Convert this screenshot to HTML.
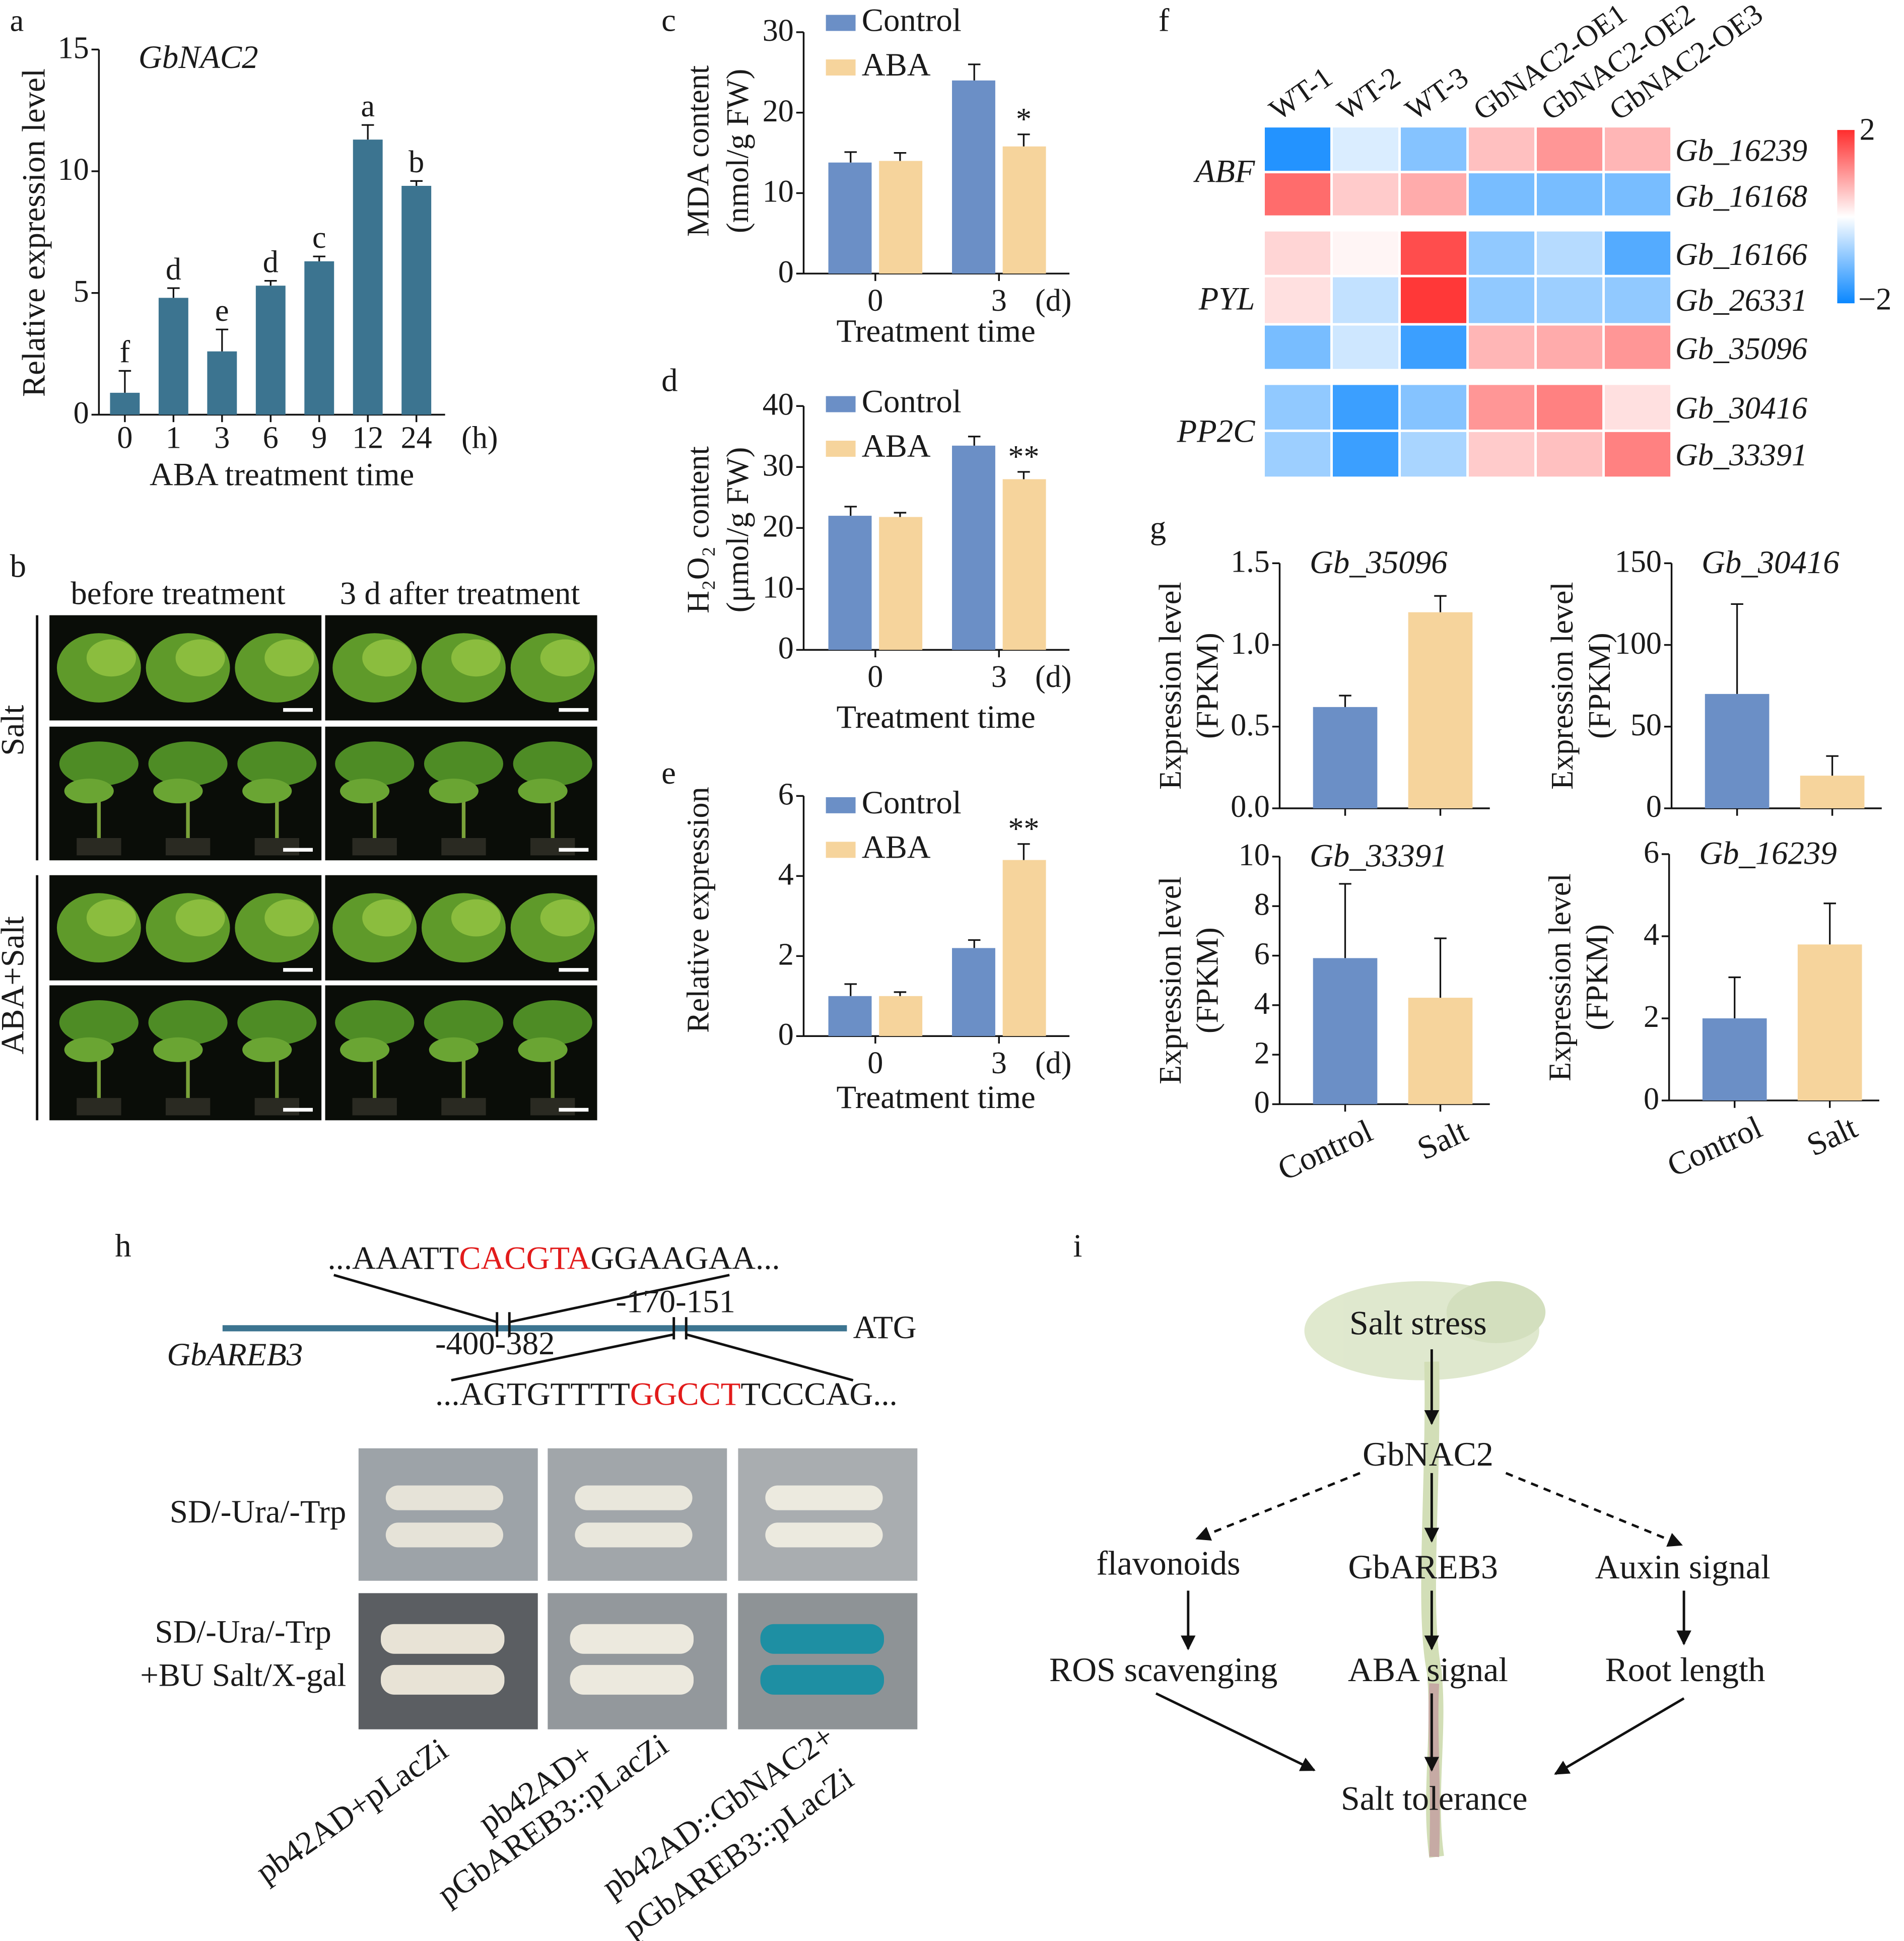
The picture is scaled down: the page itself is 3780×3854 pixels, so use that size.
<!DOCTYPE html>
<html><head><meta charset="utf-8"><style>
html,body{margin:0;padding:0;background:#fff}
svg{display:block}
text{font-family:"Liberation Serif",serif;fill:#1a1a1a}
</style></head><body>
<svg id="fig" width="3780" height="3854" viewBox="0 0 1540 1568" preserveAspectRatio="none" xmlns="http://www.w3.org/2000/svg">
<g id="pa"></g>
<g id="pb"></g>
<g id="pc"></g>
<g id="pd"></g>
<g id="pe"></g>
<g id="pf"></g>
<g id="pg"></g>
<g id="ph"></g>
<g id="pi"></g>
</svg>
<script>
// ---- data ----
const aCats=["0","1","3","6","9","12","24"];
const aVals=[0.9,4.8,2.6,5.3,6.3,11.3,9.4];
const aErr=[0.9,0.4,0.9,0.2,0.2,0.6,0.2];
const aLetters=["f","d","e","d","c","a","b"];
const aTicks=[0,5,10,15];
const groupCats=["0","3"];
const cControl=[13.8,24.0];const cABA=[14.0,15.8];const cCtrlErr=[1.3,2.0];const cABAErr=[1.0,1.5];
const cTicks=[0,10,20,30];
const dControl=[22.0,33.5];const dABA=[21.8,28.0];const dCtrlErr=[1.5,1.5];const dABAErr=[0.7,1.2];
const dTicks=[0,10,20,30,40];
const eControl=[1.0,2.2];const eABA=[1.0,4.4];const eCtrlErr=[0.3,0.2];const eABAErr=[0.1,0.4];
const eTicks=[0,2,4,6];
const fCols=["WT-1","WT-2","WT-3","GbNAC2-OE1","GbNAC2-OE2","GbNAC2-OE3"];
const fRows=["Gb_16239","Gb_16168","Gb_16166","Gb_26331","Gb_35096","Gb_30416","Gb_33391"];
const fVals=[
[-1.8,-0.3,-1.0,0.6,1.0,0.7],
[1.4,0.5,0.8,-1.1,-1.1,-1.1],
[0.4,0.1,1.7,-0.9,-0.6,-1.4],
[0.3,-0.5,1.9,-0.9,-0.8,-0.9],
[-1.1,-0.4,-1.6,0.7,0.8,1.0],
[-0.9,-1.6,-1.0,1.0,1.2,0.3],
[-0.8,-1.6,-0.7,0.5,0.6,1.2]];
const gCats=["Control","Salt"];
const g1Vals=[0.62,1.2];const g1Err=[0.07,0.1];const g1Ticks=[0,0.5,1.0,1.5];
const g2Vals=[70,20];const g2Err=[55,12];const g2Ticks=[0,50,100,150];
const g3Vals=[5.9,4.3];const g3Err=[3.0,2.4];const g3Ticks=[0,2,4,6,8,10];
const g4Vals=[2.0,3.8];const g4Err=[1.0,1.0];const g4Ticks=[0,2,4,6];

const NS="http://www.w3.org/2000/svg";
const FS=1.15;
function el(parent,tag,attrs,txt){const e=document.createElementNS(NS,tag);for(const k in attrs){let v=attrs[k];if(k==='font-size')v=(v*FS).toFixed(1);e.setAttribute(k,v);}if(txt!==undefined)e.textContent=txt;parent.appendChild(e);return e;}
const BLUE="#6b8fc6",ORANGE="#f6d49c",TEAL="#3c7490";

function errbar(g,x,yTop,yErr){
  const e=el(g,'path',{d:`M${x},${yTop}V${yErr}M${x-5},${yErr}H${x+5}`,stroke:'#111','stroke-width':1.3,fill:'none'});
  
}
function yaxis(g,x,y0,y1,max,ticks,fs,fmt){
  const sy=v=>y0-(v/max)*(y0-y1);
  const ax=el(g,'line',{x1:x,y1:y0,x2:x,y2:sy(ticks[ticks.length-1]),stroke:'#111','stroke-width':1.4});
  
  ticks.forEach(t=>{el(g,'line',{x1:x-6,y1:sy(t),x2:x,y2:sy(t),stroke:'#111','stroke-width':1.4});
    const tl=el(g,'text',{x:x-8,y:sy(t)+7,'text-anchor':'end','font-size':fs},fmt?fmt(t):t);
    });
  return sy;
}

// ---- panel a ----
(function(){
  const g=document.getElementById('pa');
  el(g,'text',{x:8,y:25,'font-size':22},'a');
  const sy=yaxis(g,80,335,40,15,aTicks,22);
  el(g,'line',{x1:80,y1:335,x2:360,y2:335,stroke:'#111','stroke-width':1.4});
  const xs=i=>101+i*39.3;
  aVals.forEach((v,i)=>{
    const b=el(g,'rect',{x:xs(i)-12,y:sy(v),width:24,height:335-sy(v),fill:TEAL});
    
    errbar(g,xs(i),sy(v),sy(v+aErr[i]));
    el(g,'text',{x:xs(i),y:sy(v+aErr[i])-7,'text-anchor':'middle','font-size':22},aLetters[i]);
    el(g,'line',{x1:xs(i),y1:335,x2:xs(i),y2:341,stroke:'#111','stroke-width':1.4});
    const t=el(g,'text',{x:xs(i),y:362,'text-anchor':'middle','font-size':22},aCats[i]);
    
  });
  el(g,'text',{x:388,y:362,'text-anchor':'middle','font-size':22},'(h)');
  el(g,'text',{x:228,y:392,'text-anchor':'middle','font-size':23},'ABA treatment time');
  el(g,'text',{x:0,y:0,'text-anchor':'middle','font-size':23,transform:'translate(36,188) rotate(-90)'},'Relative expression level');
  el(g,'text',{x:112,y:55,'font-size':23,'font-style':'italic',fill:'#555'},'GbNAC2');
})();

// ---- grouped bar panels c,d,e ----
function grouped(id,letter,ly,ax,y0,y1,max,ticks,ctrl,aba,ce,ae,ylab1,ylab2,labY,sig,legY,xlab){
  const g=document.getElementById(id);
  el(g,'text',{x:535,y:ly,'font-size':23},letter);
  const sy=yaxis(g,ax,y0,y1,max,ticks,22);
  el(g,'line',{x1:ax,y1:y0,x2:865,y2:y0,stroke:'#111','stroke-width':1.4});
  const centers=[708,808];
  groupCats.forEach((c,i)=>{
    const cx=centers[i];
    const b1=el(g,'rect',{x:cx-38,y:sy(ctrl[i]),width:35,height:y0-sy(ctrl[i]),fill:BLUE});
    
    const b2=el(g,'rect',{x:cx+3,y:sy(aba[i]),width:35,height:y0-sy(aba[i]),fill:ORANGE});
    
    errbar(g,cx-20,sy(ctrl[i]),sy(ctrl[i]+ce[i]));
    errbar(g,cx+20,sy(aba[i]),sy(aba[i]+ae[i]));
    el(g,'line',{x1:cx,y1:y0,x2:cx,y2:y0+6,stroke:'#111','stroke-width':1.4});
    el(g,'text',{x:cx,y:y0+30,'text-anchor':'middle','font-size':22},c);
    if(i===1&&sig) el(g,'text',{x:cx+20,y:sy(aba[i]+ae[i])-4,'text-anchor':'middle','font-size':22},sig);
  });
  el(g,'text',{x:852,y:y0+30,'text-anchor':'middle','font-size':22},'(d)');
  el(g,'text',{x:757,y:xlab,'text-anchor':'middle','font-size':23},'Treatment time');
  el(g,'rect',{x:668,y:legY-10,width:24,height:13,fill:BLUE});
  el(g,'text',{x:697,y:legY+3,'font-size':23},'Control');
  el(g,'rect',{x:668,y:legY+26,width:24,height:13,fill:ORANGE});
  el(g,'text',{x:697,y:legY+39,'font-size':23},'ABA');
  el(g,'text',{x:0,y:0,'text-anchor':'middle','font-size':22,transform:`translate(573,${labY}) rotate(-90)`},ylab1);
  if(ylab2) el(g,'text',{x:0,y:0,'text-anchor':'middle','font-size':22,transform:`translate(605,${labY}) rotate(-90)`},ylab2);
}
grouped('pc','c',25,650,221,26,30,cTicks,cControl,cABA,cCtrlErr,cABAErr,'MDA content','(nmol/g FW)',122,'*',22,276);
grouped('pd','d',316,650,525,328,40,dTicks,dControl,dABA,dCtrlErr,dABAErr,'H₂O₂ content','(μmol/g FW)',428,'**',330,588);
grouped('pe','e',633,650,837,643,6,eTicks,eControl,eABA,eCtrlErr,eABAErr,'Relative expression','',735,'**',654,895);

// ---- panel f heatmap ----
(function(){
  const g=document.getElementById('pf');
  el(g,'text',{x:937,y:25,'font-size':23},'f');
  function col(v){
    const t=Math.max(-1,Math.min(1,v/2));
    let r,gg,b;
    if(t>=0){r=255;gg=Math.round(255-(255-45)*t);b=Math.round(255-(255-45)*t);}
    else{const s=-t;r=Math.round(255-(255-10)*s);gg=Math.round(255-(255-135)*s);b=255;}
    return `rgb(${r},${gg},${b})`;
  }
  const rowY=[103,140,187,224,263,311,349];
  const rowH=[35,34,35,37,35,36,36];
  fVals.forEach((row,ri)=>{
    row.forEach((v,ci)=>{
      const c=el(g,'rect',{x:1023+ci*55,y:rowY[ri],width:53,height:rowH[ri],fill:col(v)});
      
    });
    el(g,'text',{x:1355,y:rowY[ri]+27,'font-size':22,'font-style':'italic'},fRows[ri]);
  });
  fCols.forEach((c,ci)=>{
    el(g,'text',{x:0,y:0,'font-size':21,transform:`translate(${1034+ci*55},98) rotate(-35)`},c);
  });
  el(g,'text',{x:1015,y:147,'text-anchor':'end','font-size':23,'font-style':'italic'},'ABF');
  el(g,'text',{x:1015,y:250,'text-anchor':'end','font-size':23,'font-style':'italic'},'PYL');
  el(g,'text',{x:1015,y:357,'text-anchor':'end','font-size':23,'font-style':'italic'},'PP2C');
  const defs=el(g,'defs',{});
  const lg=el(defs,'linearGradient',{id:'cb',x1:0,y1:0,x2:0,y2:1});
  el(lg,'stop',{offset:'0','stop-color':col(2)});el(lg,'stop',{offset:'0.5','stop-color':'#fff'});el(lg,'stop',{offset:'1','stop-color':col(-2)});
  const cb=el(g,'rect',{x:1486,y:105,width:14,height:140,fill:'url(#cb)'});
  
  el(g,'text',{x:1504,y:113,'font-size':22},'2');
  el(g,'text',{x:1503,y:250,'font-size':22},'−2');
})();

// ---- panel g ----
function gplot(ax,y0,y1,max,ticks,vals,errs,title,showX){
  const g=document.getElementById('pg');
  const sy=yaxis(g,ax,y0,y1,max,ticks,22,t=>(max<2? t.toFixed(1):t));
  el(g,'line',{x1:ax,y1:y0,x2:ax+170,y2:y0,stroke:'#111','stroke-width':1.4});
  const cs=[ax+53,ax+130];
  vals.forEach((v,i)=>{
    const b=el(g,'rect',{x:cs[i]-26,y:sy(v),width:52,height:y0-sy(v),fill:i?ORANGE:BLUE});
    
    errbar(g,cs[i],sy(v),sy(v+errs[i]));
    el(g,'line',{x1:cs[i],y1:y0,x2:cs[i],y2:y0+6,stroke:'#111','stroke-width':1.4});
    if(showX) el(g,'text',{x:0,y:0,'text-anchor':'end','font-size':23,transform:`translate(${cs[i]+24},${y0+28}) rotate(-25)`},gCats[i]);
  });
  el(g,'text',{x:ax+80,y:y1+8,'text-anchor':'middle','font-size':23,'font-style':'italic'},title);
  el(g,'text',{x:0,y:0,'text-anchor':'middle','font-size':22,transform:`translate(${ax-80},${(y0+y1)/2}) rotate(-90)`},'Expression level');
  el(g,'text',{x:0,y:0,'text-anchor':'middle','font-size':22,transform:`translate(${ax-50},${(y0+y1)/2}) rotate(-90)`},'(FPKM)');
}
el(document.getElementById('pg'),'text',{x:930,y:435,'font-size':23},'g');
gplot(1035,653,455,1.5,g1Ticks,g1Vals,g1Err,'Gb_35096',false);
gplot(1352,653,455,150,g2Ticks,g2Vals,g2Err,'Gb_30416',false);
gplot(1035,892,692,10,g3Ticks,g3Vals,g3Err,'Gb_33391',true);
gplot(1350,889,690,6,g4Ticks,g4Vals,g4Err,'Gb_16239',true);

// ---- panel b photos ----
(function(){
  const g=document.getElementById('pb');
  el(g,'text',{x:8,y:466,'font-size':23},'b');
  el(g,'text',{x:144,y:488,'text-anchor':'middle','font-size':23},'before treatment');
  el(g,'text',{x:372,y:488,'text-anchor':'middle','font-size':23},'3 d after treatment');
  el(g,'line',{x1:30,y1:497,x2:30,y2:695,stroke:'#111','stroke-width':2});
  el(g,'line',{x1:30,y1:707,x2:30,y2:905,stroke:'#111','stroke-width':2});
  el(g,'text',{x:0,y:0,'text-anchor':'middle','font-size':23,transform:'translate(19,590) rotate(-90)'},'Salt');
  el(g,'text',{x:0,y:0,'text-anchor':'middle','font-size':23,transform:'translate(19,796) rotate(-90)'},'ABA+Salt');
  const rows=[[497,85,true],[587,108,false],[707,85,true],[796,109,false]];
  [40,263].forEach(x=>{rows.forEach(([y,h,top])=>{
    const p=el(g,'rect',{x:x,y:y,width:220,height:h,fill:'#0a0d08'});
    
    for(let k=0;k<3;k++){const cx=x+40+k*72;
      if(top){el(g,'ellipse',{cx:cx,cy:y+h/2,rx:34,ry:28,fill:'#5f9a2a'});el(g,'ellipse',{cx:cx+10,cy:y+h/2-8,rx:20,ry:15,fill:'#8bbd3e'});}
      else{el(g,'rect',{x:cx-18,y:y+h-18,width:36,height:14,fill:'#2a2a22'});el(g,'line',{x1:cx,y1:y+h-18,x2:cx,y2:y+30,stroke:'#7aa23a','stroke-width':3});
        el(g,'ellipse',{cx:cx,cy:y+30,rx:32,ry:18,fill:'#4e8c25'});el(g,'ellipse',{cx:cx-8,cy:y+52,rx:20,ry:10,fill:'#6aa533'});}
    }
    el(g,'rect',{x:x+189,y:y+h-10,width:24,height:3,fill:'#fff'});
  });});
})();

// ---- panel h ----
(function(){
  const g=document.getElementById('ph');
  el(g,'text',{x:93,y:1015,'font-size':23},'h');
  const t1=el(g,'text',{x:265,y:1025,'font-size':23});
  el(t1,'tspan',{},'...AAATT');el(t1,'tspan',{fill:'#e21b1b',style:'fill:#e21b1b'},'CACGTA');el(t1,'tspan',{},'GGAAGAA...');
  el(g,'line',{x1:180,y1:1073,x2:685,y2:1073,stroke:'#3c7490','stroke-width':5});
  el(g,'text',{x:690,y:1081,'font-size':23},'ATG');
  el(g,'text',{x:135,y:1103,'font-size':23,'font-style':'italic',fill:'#444'},'GbAREB3');
  el(g,'path',{d:'M270,1030L402,1068M590,1030L412,1068M402,1060V1080M412,1060V1080',stroke:'#111','stroke-width':2,fill:'none'});
  el(g,'text',{x:352,y:1094,'font-size':23},'-400-382');
  el(g,'text',{x:498,y:1060,'font-size':23},'-170-151');
  el(g,'path',{d:'M545,1064V1082M555,1064V1082M545,1078L365,1115M555,1078L690,1115',stroke:'#111','stroke-width':2,fill:'none'});
  const t2=el(g,'text',{x:352,y:1135,'font-size':23});
  el(t2,'tspan',{},'...AGTGTTTT');el(t2,'tspan',{fill:'#e21b1b',style:'fill:#e21b1b'},'GGCCT');el(t2,'tspan',{},'TCCCAG...');
  const cols=[290,443,597];
  const tops=[['#9da3a8','#e6e3d8'],['#a1a6aa','#e9e7dc'],['#a9adb0','#eceadf']];
  const bots=[['#5b5e62','#e8e3d6'],['#93989c','#ece9de'],['#8e9396','#1e8fa3']];
  cols.forEach((x,i)=>{
    const r1=el(g,'rect',{x:x,y:1170,width:145,height:107,fill:tops[i][0]});
    
    el(g,'rect',{x:x+22,y:1200,width:95,height:20,rx:10,fill:tops[i][1]});
    el(g,'rect',{x:x+22,y:1230,width:95,height:20,rx:10,fill:tops[i][1]});
    const r2=el(g,'rect',{x:x,y:1287,width:145,height:110,fill:bots[i][0]});
    
    el(g,'rect',{x:x+18,y:1312,width:100,height:24,rx:11,fill:bots[i][1]});
    el(g,'rect',{x:x+18,y:1345,width:100,height:24,rx:11,fill:bots[i][1]});
  });
  el(g,'text',{x:280,y:1230,'text-anchor':'end','font-size':23},'SD/-Ura/-Trp');
  el(g,'text',{x:268,y:1327,'text-anchor':'end','font-size':23},'SD/-Ura/-Trp');
  el(g,'text',{x:280,y:1362,'text-anchor':'end','font-size':23},'+BU Salt/X-gal');
  el(g,'text',{x:0,y:0,'font-size':23,transform:'translate(215,1522) rotate(-35)'},'pb42AD+pLacZi');
  el(g,'text',{x:0,y:0,'font-size':23,transform:'translate(395,1482) rotate(-35)'},'pb42AD+');
  el(g,'text',{x:0,y:0,'font-size':23,transform:'translate(362,1540) rotate(-35)'},'pGbAREB3::pLacZi');
  el(g,'text',{x:0,y:0,'font-size':23,transform:'translate(495,1534) rotate(-35)'},'pb42AD::GbNAC2+');
  el(g,'text',{x:0,y:0,'font-size':23,transform:'translate(512,1567) rotate(-35)'},'pGbAREB3::pLacZi');
})();

// ---- panel i ----
(function(){
  const g=document.getElementById('pi');
  el(g,'text',{x:868,y:1015,'font-size':23},'i');
  const pl=el(g,'g',{opacity:0.8});
  
  el(pl,'ellipse',{cx:1150,cy:1075,rx:95,ry:40,fill:'#d8e3c2'});
  el(pl,'ellipse',{cx:1210,cy:1060,rx:40,ry:25,fill:'#c9d8ae'});
  el(pl,'path',{d:'M1158,1100C1160,1200 1150,1300 1160,1350C1165,1400 1155,1450 1162,1500',stroke:'#c7d6a5','stroke-width':12,fill:'none'});
  el(pl,'path',{d:'M1160,1360C1158,1400 1162,1440 1160,1500',stroke:'#b9958e','stroke-width':8,fill:'none'});
  const T=(x,y,s)=>el(g,'text',{x:x,y:y,'text-anchor':'middle','font-size':24},s);
  T(1147,1078,'Salt stress');T(1155,1184,'GbNAC2');T(945,1272,'flavonoids');T(1151,1275,'GbAREB3');T(1361,1275,'Auxin signal');
  T(941,1358,'ROS scavenging');T(1155,1358,'ABA signal');T(1363,1358,'Root length');T(1160,1462,'Salt tolerance');
  const defs=el(g,'defs',{});
  const m=el(defs,'marker',{id:'ar',viewBox:'0 0 10 10',refX:9,refY:5,markerWidth:6,markerHeight:6,orient:'auto'});
  el(m,'path',{d:'M0,0L10,5L0,10z',fill:'#111'});
  const A=(x1,y1,x2,y2,dash)=>el(g,'line',{x1,y1,x2,y2,stroke:'#111','stroke-width':2,'marker-end':'url(#ar)','stroke-dasharray':dash?'6,5':'none'});
  A(1158,1090,1158,1150);A(1100,1190,968,1243,true);A(1218,1190,1360,1248,true);A(1158,1190,1158,1245);
  A(961,1285,961,1332);A(1158,1285,1158,1332);A(1362,1285,1362,1328);
  A(935,1368,1063,1430);A(1158,1368,1158,1430);A(1362,1372,1258,1433);
})();
</script>
</body></html>
